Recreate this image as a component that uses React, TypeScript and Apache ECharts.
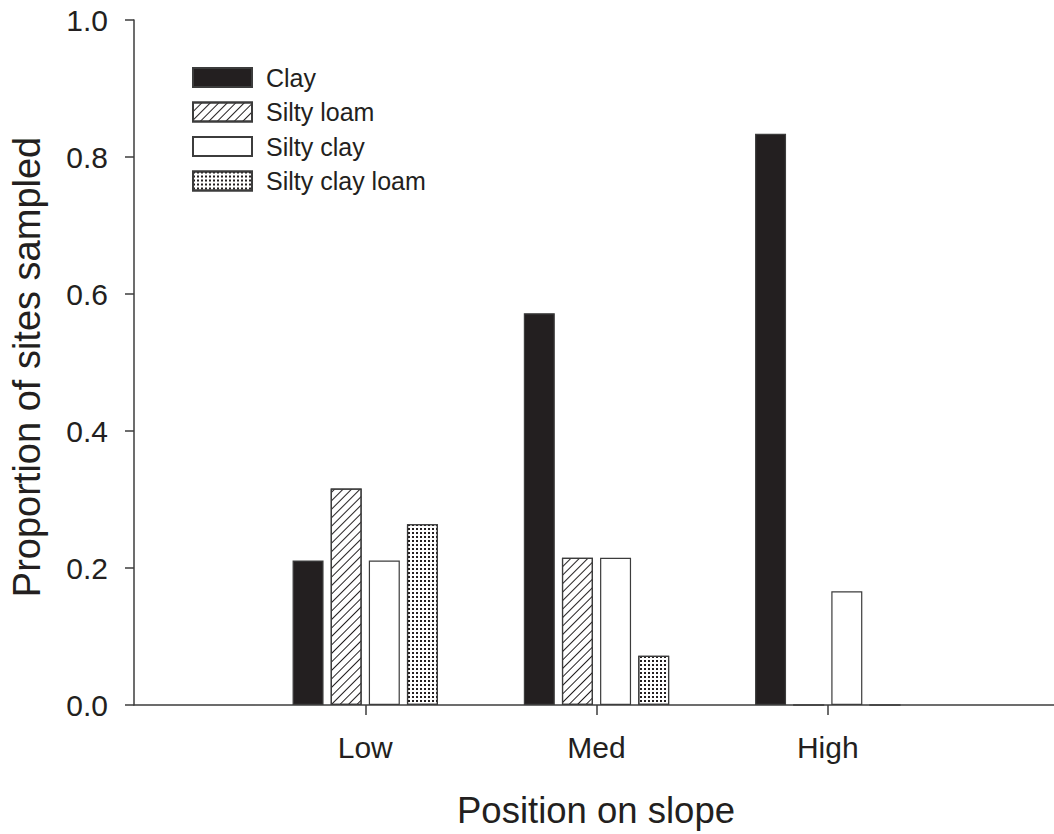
import React, { useEffect, useRef } from 'react';
import * as echarts from 'echarts';

const categories = ['', 'Low', 'Med', 'High', ''];
const clay = [null, 0.211, 0.572, 0.834, null];
const siltyLoam = [null, 0.316, 0.215, 0, null];
const siltyClay = [null, 0.211, 0.215, 0.166, null];
const siltyClayLoam = [null, 0.264, 0.072, 0, null];
const yTicks = [0, 0.2, 0.4, 0.6, 0.8, 1.0];

const FONT = '"Liberation Sans", Arial, Helvetica, sans-serif';
const INK = '#231f20';
const EDGE = '#3c3c3c';

export default function App() {
  const ref = useRef<HTMLDivElement>(null);
  useEffect(() => {
    const chart = echarts.init(ref.current!, null, { renderer: 'svg' });
    const base = { type: 'bar', barWidth: 31, barGap: '23%' };
    chart.setOption({
      animation: false,
      backgroundColor: '#fff',
      textStyle: { fontFamily: FONT, color: INK },
      grid: { left: 134, right: 0, top: 20, bottom: 129, containLabel: false },
      legend: {
        orient: 'vertical',
        left: 192,
        top: 65,
        padding: 0,
        itemWidth: 59,
        itemHeight: 19,
        itemGap: 9.5,
        icon: 'rect',
        selectedMode: false,
        textStyle: { fontFamily: FONT, fontSize: 25, color: INK, padding: [0, 0, 0, 9] },
        data: ['Clay', 'Silty loam', 'Silty clay', 'Silty clay loam'],
      },
      xAxis: {
        type: 'category',
        data: categories,
        boundaryGap: false,
        axisLine: { lineStyle: { color: EDGE, width: 1.5 } },
        axisTick: {
          show: true,
          length: 10,
          inside: false,
          interval: (i: number) => i >= 1 && i <= 3,
          lineStyle: { color: EDGE, width: 1.5 },
        },
        axisLabel: { interval: 0, fontSize: 30, color: INK, fontFamily: FONT, margin: 27 },
        splitLine: { show: false },
      },
      yAxis: {
        type: 'value',
        min: yTicks[0],
        max: yTicks[yTicks.length - 1],
        interval: 0.2,
        axisLine: { show: true, lineStyle: { color: EDGE, width: 1.5 } },
        axisTick: { show: true, length: 9, inside: false, lineStyle: { color: EDGE, width: 1.5 } },
        axisLabel: {
          fontSize: 30,
          color: INK,
          fontFamily: FONT,
          margin: 26,
          formatter: (v: number) => v.toFixed(1),
        },
        splitLine: { show: false },
      },
      graphic: [
        {
          type: 'text',
          x: 596,
          y: 810,
          style: {
            text: 'Position on slope',
            font: `36.5px ${FONT}`,
            fill: INK,
            align: 'center',
            verticalAlign: 'middle',
          },
        },
        {
          type: 'text',
          x: 27,
          y: 367,
          rotation: Math.PI / 2,
          style: {
            text: 'Proportion of sites sampled',
            font: `38px ${FONT}`,
            fill: INK,
            align: 'center',
            verticalAlign: 'middle',
          },
        },
      ],
      series: [
        {
          ...base,
          name: 'Clay',
          data: clay,
          itemStyle: { color: INK, borderColor: EDGE, borderWidth: 1.2 },
        },
        {
          ...base,
          name: 'Silty loam',
          data: siltyLoam,
          itemStyle: {
            color: '#fff',
            borderColor: EDGE,
            borderWidth: 1.2,
            decal: {
              symbol: 'rect',
              symbolSize: 1,
              color: INK,
              backgroundColor: '#fff',
              dashArrayX: [1, 0],
              dashArrayY: [1, 5],
              rotation: -Math.PI / 4,
            },
          },
        },
        {
          ...base,
          name: 'Silty clay',
          data: siltyClay,
          itemStyle: { color: '#fff', borderColor: EDGE, borderWidth: 1.2 },
        },
        {
          ...base,
          name: 'Silty clay loam',
          data: siltyClayLoam,
          itemStyle: {
            color: '#fff',
            borderColor: EDGE,
            borderWidth: 1.2,
            decal: {
              symbol: 'rect',
              symbolSize: 1,
              color: INK,
              backgroundColor: '#fff',
              dashArrayX: [1.3, 2],
              dashArrayY: [1.3, 2],
              rotation: 0,
            },
          },
        },
      ],
    });
    return () => chart.dispose();
  }, []);
  return (
    <div
      style={{
        position: 'absolute',
        left: 0,
        top: 0,
        width: 1054,
        height: 834,
        overflow: 'hidden',
        background: '#fff',
      }}
    >
      <div ref={ref} style={{ width: 1062, height: 834 }} />
    </div>
  );
}
